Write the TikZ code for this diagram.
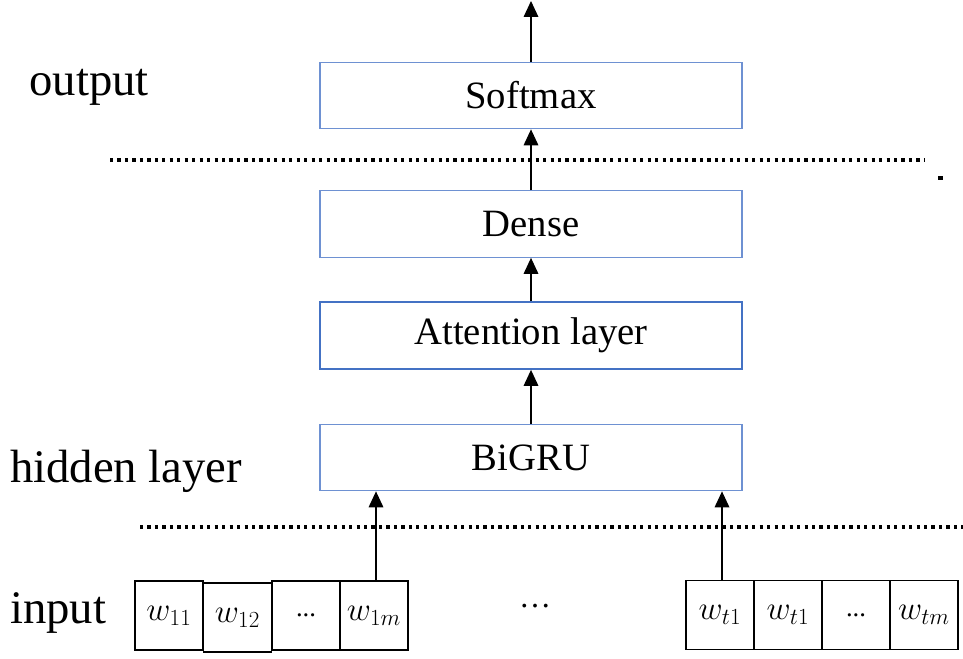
\documentclass[tikz,border=0pt]{standalone}
\usepackage{amsmath}
\usepackage{fontspec}
\setmainfont{Liberation Serif}
\usepackage{tikz}
\usetikzlibrary{arrows.meta}

\definecolor{boxblue}{RGB}{110,145,210}
\definecolor{attblue}{RGB}{68,114,196}

\tikzset{
  layerbox/.style={draw=boxblue, line width=0.8pt, minimum width=316.5pt, minimum height=50pt, inner sep=0pt, font=\fontsize{29}{34}\selectfont},
  attbox/.style={layerbox, draw=attblue, line width=1.6pt},
  cellbox/.style={draw=black, line width=1.1pt, minimum width=51pt, minimum height=52pt, inner sep=0pt, font=\fontsize{26}{30}\selectfont},
  sidelabel/.style={inner sep=0.75pt, font=\fontsize{35}{40}\selectfont},
  uparrow/.style={line width=0.9pt, -{Triangle[width=11pt,length=12pt]}},
  dotline/.style={line width=3pt, dash pattern={on 2.4pt off 3.2pt}}
}

\begin{document}
\begin{tikzpicture}[x=0.75pt,y=0.75pt,yscale=-1,xscale=1]
\useasboundingbox (0,0) rectangle (963,659);

%Layer boxes
\node [layerbox] (softmax) at (531,95.5) {Softmax};
\node [layerbox] (dense) at (531,224) {Dense};
\node [attbox] (attn) at (531,335.5) {Attention layer};
\node [layerbox] (bigru) at (531,457.5) {BiGRU};

%Input cells, first sentence
\node [cellbox] (w11) at (169,615.5) {$w_{11}$};
\node [cellbox] (w12) at (237.5,617.5) {$w_{12}$};
\node [cellbox] (w1dots) at (306,615.5) {\fontsize{20}{24}\selectfont ...};
\node [cellbox] (w1m) at (374,615.5) {$w_{1m}$};
%Input cells, last sentence
\node [cellbox] (wt1) at (720,615) {$w_{t1}$};
\node [cellbox] (wt2) at (788,615) {$w_{t1}$};
\node [cellbox] (wtdots) at (856,615) {\fontsize{20}{24}\selectfont ...};
\node [cellbox] (wtm) at (924,615) {$w_{tm}$};

% Text Node
\node [sidelabel] (outlab) at (89,87) {output};
% Text Node
\node [sidelabel] (hidlab) at (126,471) {hidden layer};
% Text Node
\node [sidelabel] (inlab) at (58,613) {input};
% Text Node
\node [inner sep=0.75pt, font=\fontsize{24}{28}\selectfont] (gap) at (535,606) {…};

%Straight Lines
\draw [dotline] (110,160) -- (925,160);
\draw [line width=3.2pt] (938,178) -- (942.5,178);
\draw [dotline] (140,527) -- (963,527);

%Arrows
\coordinate (top) at (531,1);
\draw [uparrow] (softmax.north) -- (top);
\draw [uparrow] (dense.north) -- (softmax.south);
\draw [uparrow] (attn.north) -- (dense.south);
\draw [uparrow] (bigru.north) -- (attn.south);
\draw [uparrow] (w1m.north -| 376,0) -- (bigru.south -| 376,0);
\draw [uparrow] (wt1.north -| 722,0) -- (bigru.south -| 722,0);

\end{tikzpicture}
\end{document}
